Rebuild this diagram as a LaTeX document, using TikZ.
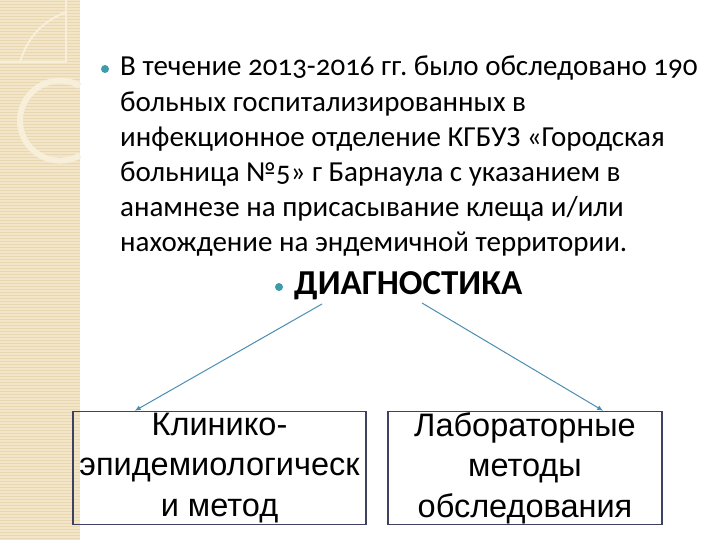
\documentclass[tikz,border=0pt]{standalone}
\usepackage{fontspec}
\setmainfont{Carlito}[Numbers=OldStyle]
\newfontfamily\boxfont{Liberation Sans}
\usetikzlibrary{arrows.meta,calc}
\definecolor{stripe}{HTML}{F3E6C8}
\definecolor{stripeline}{HTML}{E8D7B0}
\definecolor{deco}{HTML}{F8EFDA}
\definecolor{teal}{HTML}{3E9BAA}
\definecolor{arrowc}{HTML}{4A8DB2}
\definecolor{boxline}{HTML}{3E4260}
\frenchspacing
\begin{document}
\begin{tikzpicture}[x=1pt,y=-1pt,>={Latex[length=6pt,width=5pt]},
  b/.style={draw=boxline,line width=1.4pt,align=center,inner sep=0pt,minimum height=113pt,font=\boxfont\fontsize{32.5}{40.5}\selectfont},
  dot/.style={circle,fill=teal,inner sep=0pt,minimum size=8pt},
  link/.style={->,draw=arrowc,line width=1pt}]
\useasboundingbox (0,0) rectangle (720,540);
% left stripe
\fill[stripe] (0,0) rectangle (80,540);
\foreach \y in {1.5,4.5,...,540} \draw[stripeline,line width=0.6pt] (0,\y)--(80,\y);
\draw[deco,line width=2pt] (0,62)--(66,62)--(66,0);
\draw[deco,line width=2pt] (20,62) to[bend left=25] (66,12);
\draw[deco,line width=6pt] (80,86) arc[start angle=-60,end angle=-300,radius=40];
% text
\node[dot] (b1) at (105,69) {};
\node[anchor=north west,align=left,inner sep=0pt,font=\fontsize{29}{35.2}\selectfont] (intro) at (120,56)
  {В течение 2013-2016 гг. было обследовано 190\\больных госпитализированных в\\инфекционное отделение КГБУЗ «Городская\\больница №5» г Барнаула с указанием в\\анамнезе на присасывание клеща и/или\\нахождение на эндемичной территории.};
\node[dot] (b2) at (279,287) {};
\node[anchor=west,inner sep=0pt,font=\bfseries\fontsize{35}{40}\selectfont] (diag) at (294,286) {ДИАГНОСТИКА};
\node[b,minimum width=293pt] (clin) at (219.5,468) {Клинико-\\эпидемиологическ\\и метод};
\node[b,minimum width=274pt] (lab) at (525,468) {Лабораторные\\методы\\обследования};
\coordinate (dl) at (322,304);
\coordinate (dr) at (422,303);
\draw[link] (dl)--($(clin.north west)!0.212!(clin.north east)$);
\draw[link] (dr)--($(lab.north west)!0.784!(lab.north east)$);
\end{tikzpicture}
\end{document}
